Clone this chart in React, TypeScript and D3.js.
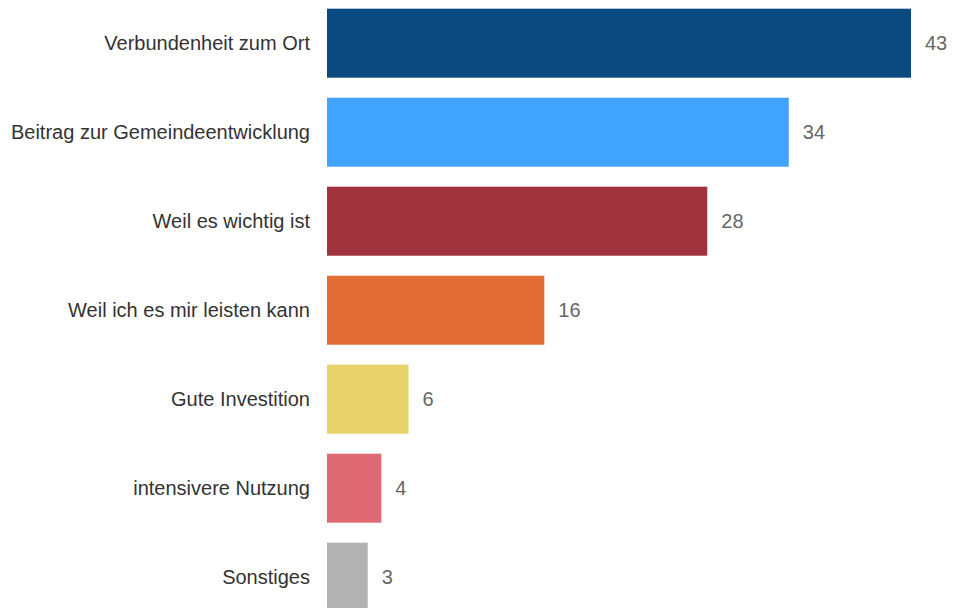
import React from "react";
import * as d3 from "d3";

const categories = [
  "Verbundenheit zum Ort",
  "Beitrag zur Gemeindeentwicklung",
  "Weil es wichtig ist",
  "Weil ich es mir leisten kann",
  "Gute Investition",
  "intensivere Nutzung",
  "Sonstiges",
];
const values = [43, 34, 28, 16, 6, 4, 3];
const colors = ["#0b4a80", "#40a4ff", "#a0333e", "#e46c37", "#e8d26a", "#e06a74", "#b3b3b3"];

const W = 953;
const H = 608;

export default function App() {
  const x = d3.scaleLinear().domain([0, 43]).range([327, 911]);
  const y = d3
    .scaleBand<string>()
    .domain(categories)
    .range([8.7, 8.7 + 7 * 89 - 20])
    .paddingInner(20 / 89)
    .paddingOuter(0);

  return (
    <svg
      width={W}
      height={H}
      style={{ position: "absolute", left: 0, top: 0, display: "block" }}
      fontFamily="'Liberation Sans', Arial, sans-serif"
    >
      <rect width={W} height={H} fill="#fff" />
      {categories.map((c, i) => {
        const y0 = y(c)!;
        const bw = y.bandwidth();
        const cy = y0 + bw / 2;
        return (
          <g key={c}>
            <rect x={x(0)} y={y0} width={x(values[i]) - x(0)} height={bw} fill={colors[i]} />
            <text x={310} y={cy} dy="0.35em" textAnchor="end" fontSize={20} fill="#333">
              {c}
            </text>
            <text x={x(values[i]) + 14} y={cy} dy="0.35em" textAnchor="start" fontSize={20} fill="#666">
              {values[i]}
            </text>
          </g>
        );
      })}
    </svg>
  );
}
